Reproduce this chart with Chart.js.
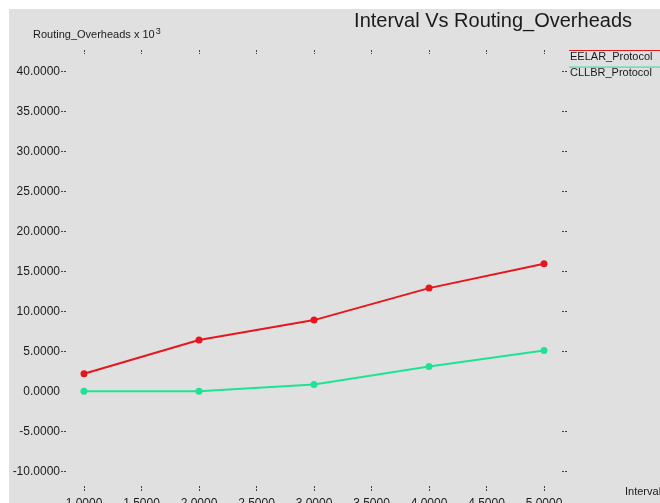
<!DOCTYPE html>
<html>
<head>
<meta charset="utf-8">
<title>Interval Vs Routing_Overheads</title>
<script src="https://cdn.jsdelivr.net/npm/chart.js@4.4.1/dist/chart.umd.min.js"></script>
<style>
  html, body { margin: 0; padding: 0; background: #fff; }
  canvas { display: block; }
</style>
</head>
<body>
<canvas id="chart" width="660" height="503"></canvas>
<script>
// interval values and routing overheads (x 10^3) per protocol
const intervals = [1, 2, 3, 4, 5];
const eelarOverheads = [2.2, 6.4, 8.9, 12.9, 15.95];
const cllbrOverheads = [0.0, 0.0, 0.85, 3.1, 5.1];
const seriesNames = ['EELAR_Protocol', 'CLLBR_Protocol'];
const xTickValues = [1, 1.5, 2, 2.5, 3, 3.5, 4, 4.5, 5];
const yTickValues = [-10, -5, 0, 5, 10, 15, 20, 25, 30, 35, 40];

const RED = '#e6161f';
const GREEN = '#1fe394';
const FONT = '"Liberation Sans", Arial, sans-serif';

const toPoints = (ys) => intervals.map((x, i) => ({x: x, y: ys[i]}));

function fixedTicks(values) {
  return (scale) => {
    scale.ticks = values.map((v) => ({value: v}));
  };
}

// xgraph-style dotted tick marks, no grid, no frame
function tickGrid(len) {
  return {
    drawOnChartArea: false,
    drawTicks: true,
    tickLength: len,
    tickWidth: 1,
    tickBorderDash: [2, 1],
    tickColor: (ctx) => (ctx.tick && ctx.tick.value === 0 && ctx.scale.axis === 'y') ? 'rgba(0,0,0,0)' : '#444',
  };
}

const background = {
  id: 'background',
  beforeDraw(chart) {
    const c = chart.ctx;
    c.save();
    c.fillStyle = '#ffffff';
    c.fillRect(0, 0, chart.width, chart.height);
    c.fillStyle = '#e0e0e0';
    c.fillRect(9, 9, chart.width - 9, chart.height - 9);
    c.restore();
  },
};

const annotations = {
  id: 'annotations',
  afterDraw(chart) {
    const c = chart.ctx;
    c.save();
    c.fillStyle = '#1a1a1a';

    // title
    c.font = '20px ' + FONT;
    c.textAlign = 'right';
    c.textBaseline = 'middle';
    c.fillText('Interval Vs Routing_Overheads', 632, 21);

    // y axis caption with exponent
    c.font = '11px ' + FONT;
    c.textAlign = 'left';
    const cap = 'Routing_Overheads x 10';
    c.fillText(cap, 33, 35);
    const w = c.measureText(cap).width;
    c.font = '9px ' + FONT;
    c.fillText('3', 33 + w + 1, 32);

    // x axis caption
    c.font = '11px ' + FONT;
    c.fillText('Interval', 625, 492);

    // legend: coloured rule above each name
    chart.data.datasets.forEach((ds, i) => {
      const y = 50.5 + i * 16.6;
      c.strokeStyle = ds.borderColor;
      c.lineWidth = 1;
      c.beginPath();
      c.moveTo(569, y);
      c.lineTo(660, y);
      c.stroke();
      c.fillStyle = '#1a1a1a';
      c.font = '11px ' + FONT;
      c.textBaseline = 'middle';
      c.fillText(ds.label, 570, y + 6);
    });
    c.restore();
  },
};

const ctx = document.getElementById('chart').getContext('2d');

new Chart(ctx, {
  type: 'line',
  data: {
    datasets: [
      {
        label: seriesNames[0],
        data: toPoints(eelarOverheads),
        borderColor: RED,
        backgroundColor: RED,
        borderWidth: 2,
        pointRadius: 3.5,
        pointBorderWidth: 0,
        tension: 0,
      },
      {
        label: seriesNames[1],
        data: toPoints(cllbrOverheads),
        borderColor: GREEN,
        backgroundColor: GREEN,
        borderWidth: 2,
        pointRadius: 3.5,
        pointBorderWidth: 0,
        tension: 0,
      },
    ],
  },
  options: {
    responsive: false,
    devicePixelRatio: 1,
    animation: false,
    layout: {padding: 0},
    plugins: {
      legend: {display: false},
      title: {display: false},
      tooltip: {enabled: false},
    },
    scales: {
      x: {
        type: 'linear',
        position: 'bottom',
        min: 1 - 18 / 115,
        max: 5 + 18 / 115,
        afterBuildTicks: fixedTicks(xTickValues),
        afterFit: (s) => { s.height = 17; },
        grid: tickGrid(5),
        border: {display: false},
        ticks: {
          padding: 5,
          maxRotation: 0,
          autoSkip: false,
          color: '#1a1a1a',
          font: {family: FONT, size: 12},
          callback: (v) => Number(v).toFixed(4),
        },
      },
      xTop: {
        type: 'linear',
        position: 'top',
        min: 1 - 18 / 115,
        max: 5 + 18 / 115,
        afterBuildTicks: fixedTicks(xTickValues),
        afterFit: (s) => { s.height = 54; },
        grid: tickGrid(4),
        border: {display: false},
        ticks: {color: 'rgba(0,0,0,0)', autoSkip: false, maxRotation: 0},
      },
      y: {
        type: 'linear',
        position: 'left',
        min: -(486 - 391.3) / 8,
        max: (391.3 - 54) / 8,
        afterBuildTicks: fixedTicks(yTickValues),
        afterFit: (s) => { s.width = 66; },
        grid: tickGrid(5),
        border: {display: false},
        ticks: {
          padding: 1,
          autoSkip: false,
          color: '#1a1a1a',
          font: {family: FONT, size: 12},
          callback: (v) => Number(v).toFixed(4),
        },
      },
      yRight: {
        type: 'linear',
        position: 'right',
        min: -(486 - 391.3) / 8,
        max: (391.3 - 54) / 8,
        afterBuildTicks: fixedTicks(yTickValues),
        afterFit: (s) => { s.width = 98; },
        grid: tickGrid(5),
        border: {display: false},
        ticks: {color: 'rgba(0,0,0,0)', autoSkip: false},
      },
    },
  },
  plugins: [background, annotations],
});
</script>
</body>
</html>
